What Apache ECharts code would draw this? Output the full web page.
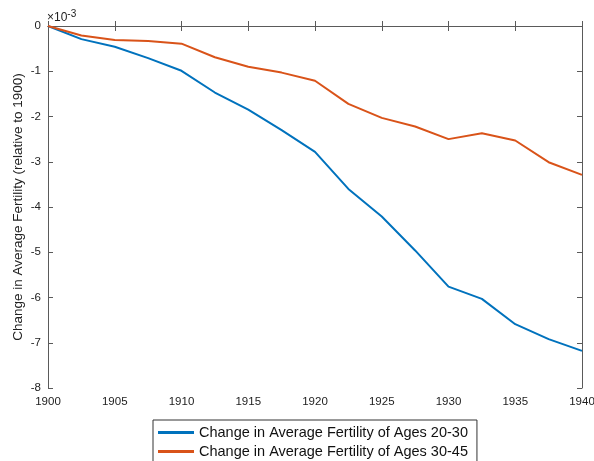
<!DOCTYPE html>
<html>
<head>
<meta charset="utf-8">
<script src="https://cdn.jsdelivr.net/npm/echarts@6/dist/echarts.min.js"></script>
<style>
  html, body { margin: 0; padding: 0; background: #fff; }
  #chart { width: 594px; height: 461px; }
</style>
</head>
<body>
<div id="chart"></div>
<script>
// years sampled every 2.5
const years = [1900, 1902.5, 1905, 1907.5, 1910, 1912.5, 1915, 1917.5, 1920,
  1922.5, 1925, 1927.5, 1930, 1932.5, 1935, 1937.5, 1940]
// values in units of 1e-3
const ages2030 = [0, -0.29, -0.46, -0.71, -0.99, -1.47, -1.85, -2.3, -2.78,
  -3.6, -4.21, -4.96, -5.76, -6.03, -6.59, -6.92, -7.18]
const ages3045 = [0, -0.21, -0.31, -0.33, -0.39, -0.69, -0.9, -1.03, -1.21,
  -1.72, -2.03, -2.22, -2.5, -2.37, -2.53, -3.01, -3.29]
const seriesNames = ['Change in Average Fertility of Ages 20-30',
  'Change in Average Fertility of Ages 30-45']
const colors = ['#0072BD', '#D95319']

const FONT = 'Liberation Sans'
const AXIS_COLOR = '#5a5a5a'

function pairs (ys) {
  return years.map((x, i) => [x, ys[i]])
}

const chart = echarts.init(document.getElementById('chart'))

const axisLine = { show: true, lineStyle: { color: AXIS_COLOR, width: 1 } }
const tickIn = { show: true, inside: true, length: 5, lineStyle: { color: AXIS_COLOR } }

chart.setOption({
  animation: false,
  textStyle: { fontFamily: FONT },
  grid: { left: 48, top: 26, right: 12, bottom: 73, outerBoundsMode: 'none', containLabel: false },
  xAxis: [
    {
      type: 'value', min: 1900, max: 1940, interval: 5,
      axisLine, axisTick: tickIn,
      axisLabel: { color: '#222', fontSize: 11.5, margin: 8, fontFamily: FONT, formatter: v => String(v) },
      splitLine: { show: false }
    },
    {
      type: 'value', position: 'top', min: 1900, max: 1940, interval: 5,
      axisLine, axisTick: tickIn, axisLabel: { show: false }, splitLine: { show: false }
    }
  ],
  yAxis: [
    {
      type: 'value', min: -8, max: 0, interval: 1,
      axisLine, axisTick: tickIn,
      axisLabel: { color: '#222', fontSize: 11.5, margin: 7, fontFamily: FONT },
      splitLine: { show: false },
      name: 'Change in Average Fertility (relative to 1900)',
      nameLocation: 'middle', nameGap: 23, nameMoveOverlap: false,
      nameTextStyle: { color: '#222', fontSize: 13.5, fontFamily: FONT }
    },
    {
      type: 'value', position: 'right', min: -8, max: 0, interval: 1,
      axisLine, axisTick: tickIn, axisLabel: { show: false }, splitLine: { show: false }
    }
  ],
  legend: {
    orient: 'vertical', left: 153, top: 420, height: 60,
    padding: [5, 9, 8, 5], itemGap: 4,
    itemWidth: 36, itemHeight: 3, icon: 'rect',
    borderColor: '#333', borderWidth: 1, backgroundColor: '#fff',
    textStyle: { color: '#111', fontSize: 14.5, fontFamily: FONT },
    data: seriesNames
  },
  graphic: [{
    type: 'text', left: 47, top: 9,
    style: {
      text: '×10{sup|-3}',
      fill: '#222', font: '12px ' + FONT,
      rich: { sup: { fontSize: 10, verticalAlign: 'top', padding: [0, 0, 7, 0] } }
    }
  }],
  series: [0, 1].map(i => ({
    name: seriesNames[i],
    type: 'line',
    data: pairs(i === 0 ? ages2030 : ages3045),
    showSymbol: false,
    lineStyle: { color: colors[i], width: 2 },
    itemStyle: { color: colors[i] }
  }))
})
</script>
</body>
</html>
